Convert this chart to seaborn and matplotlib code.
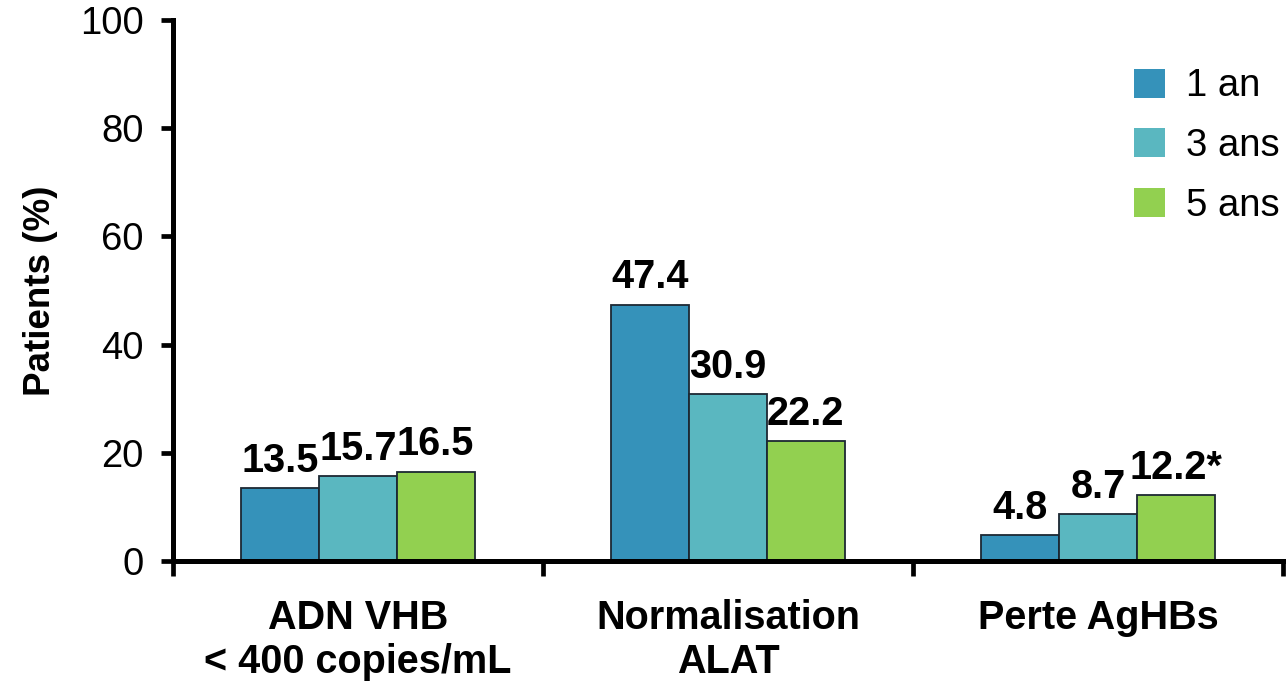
import matplotlib
matplotlib.use("Agg")
import matplotlib.pyplot as plt
import seaborn as sns
import pandas as pd
from matplotlib.ticker import FixedLocator

categories = ["ADN VHB\n< 400 copies/mL", "Normalisation\nALAT", "Perte AgHBs"]
periods = ["1 an", "3 ans", "5 ans"]
values_1an = [13.5, 47.4, 4.8]
values_3ans = [15.7, 30.9, 8.7]
values_5ans = [16.5, 22.2, 12.2]
# significance marks appended to the value labels, per period then category
marks_1an = ["", "", ""]
marks_3ans = ["", "", ""]
marks_5ans = ["", "", "*"]
yticks = [0, 20, 40, 60, 80, 100]
colors = ["#3592BA", "#5AB7C0", "#92D050"]

series = [values_1an, values_3ans, values_5ans]
marks = [marks_1an, marks_3ans, marks_5ans]
df = pd.DataFrame({
    "categorie": [c for s in series for c in categories],
    "periode": [p for p, s in zip(periods, series) for _ in s],
    "valeur": [v for s in series for v in s],
})

sns.set_style("white")
plt.rcParams["font.family"] = ["Liberation Sans", "DejaVu Sans"]
plt.rcParams["text.color"] = "black"
plt.rcParams["axes.labelcolor"] = "black"
plt.rcParams["xtick.color"] = "black"
plt.rcParams["ytick.color"] = "black"

fig = plt.figure(figsize=(12.86, 6.84), dpi=100)
ax = fig.add_axes([0.1345, 0.1798, 0.8632, 0.791])

sns.barplot(data=df, x="categorie", y="valeur", hue="periode",
            order=categories, hue_order=periods, palette=colors,
            width=0.63, edgecolor="#1c2833", linewidth=1.3, ax=ax,
            errorbar=None, saturation=1)

for cont, mk in zip(ax.containers, marks):
    labels = [f"{b.get_height():.1f}{m}" for b, m in zip(cont, mk)]
    ax.bar_label(cont, labels=labels, padding=6, fontsize=28.5,
                 fontweight="bold", color="black")

ax.set_ylim(0, 100)
ax.set_xlim(-0.5, 2.5)
ax.set_yticks(yticks)
ax.set_yticklabels([str(t) for t in yticks], fontsize=27.5)
ax.set_ylabel("Patients (%)", fontsize=26.5, fontweight="bold", labelpad=16)
ax.set_xlabel("")
ax.set_xticks(range(len(categories)))
ax.set_xticklabels(categories, fontsize=28.5, fontweight="bold",
                   linespacing=1.2)
ax.tick_params(axis="x", which="major", length=0, pad=27)
ax.xaxis.set_minor_locator(FixedLocator([-0.5, 0.5, 1.5, 2.5]))
ax.tick_params(axis="x", which="minor", bottom=True, length=11, width=3.4,
               direction="out", color="black")
ax.tick_params(axis="y", left=True, length=9, width=3.4, direction="out",
               color="black", pad=12)

for side in ["top", "right"]:
    ax.spines[side].set_visible(False)
for side in ["left", "bottom"]:
    ax.spines[side].set_linewidth(3.6)
    ax.spines[side].set_color("black")
    ax.spines[side].set_capstyle("projecting")

ax.legend(loc="upper left", bbox_to_anchor=(0.882, 0.90),
          bbox_transform=fig.transFigure, frameon=False, fontsize=27.5,
          handlelength=0.8, handleheight=0.8, handletextpad=0.55,
          labelspacing=0.62, borderpad=0, borderaxespad=0)
for h in ax.get_legend().legend_handles:
    h.set_edgecolor("none")

fig.savefig("out.png", dpi=100)
